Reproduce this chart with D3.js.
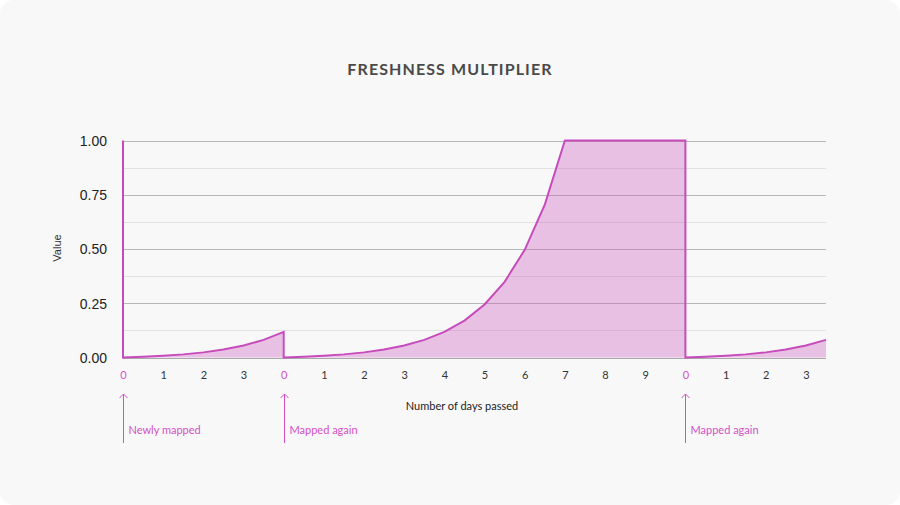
<!DOCTYPE html>
<html>
<head>
<meta charset="utf-8">
<script src="https://cdn.jsdelivr.net/npm/d3@7"></script>
<style>
  html, body { margin: 0; padding: 0; background: #ffffff; }
  svg { display: block; }
</style>
</head>
<body>
<svg id="chart" width="900" height="505"></svg>
<script>
// ---- Data ----
const seg1Days   = [0, 0.5, 1, 1.5, 2, 2.5, 3, 3.5, 4];
const seg1Values = [0, 0.0033, 0.0079, 0.0144, 0.0236, 0.0367, 0.0551, 0.0812, 0.1181];
const seg2Days   = [0, 0.5, 1, 1.5, 2, 2.5, 3, 3.5, 4, 4.5, 5, 5.5, 6, 6.5, 7, 10];
const seg2Values = [0, 0.0033, 0.0079, 0.0144, 0.0236, 0.0367, 0.0551, 0.0812, 0.1181, 0.1703, 0.2441, 0.3486, 0.4961, 0.7049, 1.0, 1.0];
const seg3Days   = [0, 0.5, 1, 1.5, 2, 2.5, 3, 3.5];
const seg3Values = [0, 0.0033, 0.0079, 0.0144, 0.0236, 0.0367, 0.0551, 0.0812];
const segStarts  = [0, 4, 14];          // axis position where the day counter resets
const startValue = 1.0;                 // value carried in before the first reset
const tickLabels = ["0","1","2","3","0","1","2","3","4","5","6","7","8","9","0","1","2","3"];
const resetTicks = [0, 4, 14];
const annotationLabels = ["Newly mapped", "Mapped again", "Mapped again"];
const yTicks = [0, 0.25, 0.5, 0.75, 1.0];
const yMinorTicks = [0.125, 0.375, 0.625, 0.875];

// ---- Setup ----
const svg = d3.select("#chart");
const W = 900, H = 505;
const pink = "#c64bbb";
const labelPink = "#d64fc8";

svg.append("rect").attr("x", 0).attr("y", 0).attr("width", W).attr("height", H)
  .attr("rx", 14).attr("ry", 14).attr("fill", "#f8f8f8");

const x = d3.scaleLinear().domain([0, 17.5]).range([123, 826]);
const y = d3.scaleLinear().domain([0, 1]).range([357.5, 140.5]);

// Title
svg.append("text").attr("x", 450).attr("y", 75).attr("text-anchor", "middle")
  .attr("font-family", "Lato, 'Open Sans', sans-serif").attr("font-weight", "bold")
  .attr("font-size", 16).attr("letter-spacing", 1.1).attr("fill", "#4a4a4a")
  .text("FRESHNESS MULTIPLIER");

// Gridlines
const grid = svg.append("g");
grid.selectAll("line.minor").data(yMinorTicks).join("line")
  .attr("class", "minor")
  .attr("x1", x(0)).attr("x2", x(17.5))
  .attr("y1", d => Math.round(y(d)) + 0.5).attr("y2", d => Math.round(y(d)) + 0.5)
  .attr("stroke", "#e2e2e2").attr("stroke-width", 1);
grid.selectAll("line.major").data(yTicks).join("line")
  .attr("class", "major")
  .attr("x1", x(0)).attr("x2", x(17.5))
  .attr("y1", d => Math.round(y(d)) + 0.5).attr("y2", d => Math.round(y(d)) + 0.5)
  .attr("stroke", d => d === 0 ? "#a8a8a8" : "#b8b8b8").attr("stroke-width", 1);

// Y axis labels
const yAxis = d3.axisLeft(y).tickValues(yTicks).tickFormat(d3.format(".2f")).tickSize(0).tickPadding(0);
const yg = svg.append("g").attr("transform", `translate(${107},0)`).call(yAxis);
yg.select(".domain").remove();
yg.selectAll("text").attr("font-family", "'Liberation Sans', Arial, sans-serif")
  .attr("font-size", 14).attr("fill", "#222").attr("dy", "0.35em");

svg.append("text").attr("transform", `translate(61,248) rotate(-90)`)
  .attr("text-anchor", "middle").attr("font-family", "'Liberation Sans', Arial, sans-serif")
  .attr("font-size", 11).attr("fill", "#333").text("Value");

// Build line points
const pts = [{ p: segStarts[0], v: startValue }];
[[seg1Days, seg1Values], [seg2Days, seg2Values], [seg3Days, seg3Values]].forEach(([ds, vs], i) => {
  ds.forEach((d, j) => pts.push({ p: segStarts[i] + d, v: vs[j] }));
});
const areaPts = pts.slice(1);

const area = d3.area().x(d => x(d.p)).y0(y(0)).y1(d => y(d.v));
const line = d3.line().x(d => x(d.p)).y(d => y(d.v));

svg.append("path").datum(areaPts).attr("d", area).attr("fill", "#c64bbb").attr("fill-opacity", 0.32);
svg.append("path").datum(pts).attr("d", line).attr("fill", "none")
  .attr("stroke", pink).attr("stroke-width", 2).attr("stroke-linejoin", "miter");

// X axis tick labels
const xAxis = d3.axisBottom(x).tickValues(d3.range(tickLabels.length))
  .tickFormat((d, i) => tickLabels[i]).tickSize(0).tickPadding(0);
const xg = svg.append("g").attr("transform", `translate(0,371)`).call(xAxis);
xg.select(".domain").remove();
xg.selectAll("text").attr("font-family", "Lato, 'Open Sans', sans-serif").attr("font-size", 11)
  .attr("fill", (d) => resetTicks.includes(d) ? labelPink : "#333").attr("dy", "0.71em");

svg.append("text").attr("x", 462).attr("y", 410).attr("text-anchor", "middle")
  .attr("font-family", "Lato, 'Open Sans', sans-serif").attr("font-size", 11).attr("fill", "#222")
  .text("Number of days passed");

// Annotations
const ann = svg.append("g");
resetTicks.forEach((p, i) => {
  const ax = Math.round(x(p)) + 0.5;
  const g = ann.append("g");
  g.append("line").attr("x1", ax).attr("x2", ax).attr("y1", 394).attr("y2", 443)
    .attr("stroke", labelPink).attr("stroke-width", 1);
  g.append("path").attr("d", `M${ax - 4},${398} L${ax},${394} L${ax + 4},${398}`)
    .attr("fill", "none").attr("stroke", labelPink).attr("stroke-width", 1);
  g.append("text").attr("x", ax + 5).attr("y", 434)
    .attr("font-family", "Lato, 'Open Sans', sans-serif").attr("font-size", 11).attr("fill", labelPink)
    .text(annotationLabels[i]);
});
</script>
</body>
</html>
